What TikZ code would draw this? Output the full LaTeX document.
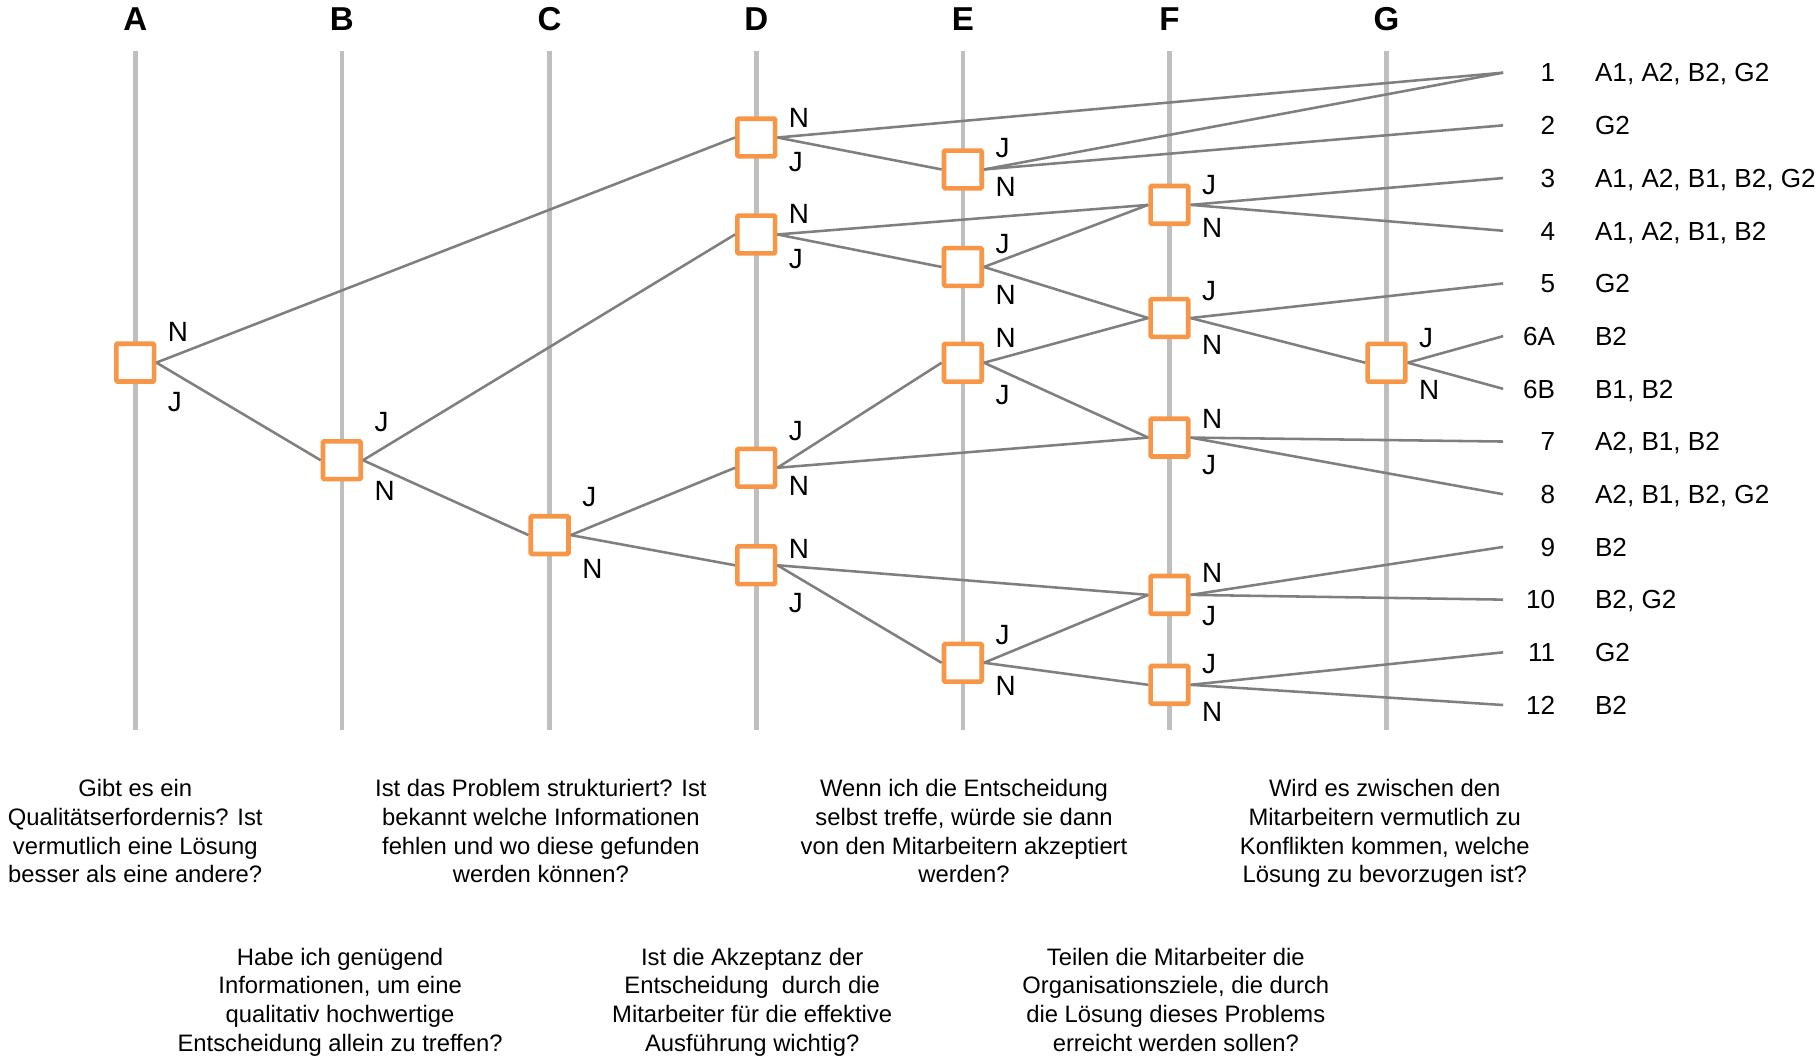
\documentclass[tikz,border=0pt]{standalone}
\usepackage{fontspec}
\setmainfont{Liberation Sans}
\definecolor{orng}{HTML}{F79646}
\definecolor{edgegray}{HTML}{7F7F7F}
\definecolor{colgray}{HTML}{BFBFBF}
\begin{document}
\begin{tikzpicture}[x=1pt,y=-1pt,
  colline/.style={draw=colgray,line width=4pt},
  dec/.style={draw=orng,fill=white,line width=4pt,minimum size=32.5pt,inner sep=0pt,rounded corners=1pt},
  conn/.style={draw=edgegray,line width=2.2pt},
  hdr/.style={anchor=base,inner sep=0pt,font=\bfseries\fontsize{28.5}{29}\selectfont},
  lbl/.style={anchor=base west,inner sep=0pt,font=\fontsize{24}{24}\selectfont},
  outnum/.style={anchor=base east,inner sep=0pt,font=\fontsize{22.5}{22.5}\selectfont},
  outans/.style={anchor=base west,inner sep=0pt,font=\fontsize{22.5}{22.5}\selectfont},
  qtext/.style={anchor=north,align=center,inner sep=0pt,font=\fontsize{20.5}{24.7}\selectfont}]
\useasboundingbox (0,0) rectangle (1568,915);

% column headers and lines
\foreach \n/\x in {A/116.5,B/294.5,C/473.5,D/651.5,E/829.5,F/1007.5,G/1194.5}{
  \node[hdr] (h\n) at (\x,26.2) {\n};
  \coordinate (t\n) at (\x,43.7);
  \coordinate (b\n) at (\x,629);
  \draw[colline] (t\n) -- (b\n);
}

% decision nodes
\node[dec] (A)  at (116.5,312.4) {};
\node[dec] (B)  at (294.5,396.5) {};
\node[dec] (C)  at (473.5,461) {};
\node[dec] (D1) at (651.5,118.5) {};
\node[dec] (D2) at (651.5,202) {};
\node[dec] (D3) at (651.5,403) {};
\node[dec] (D4) at (651.5,487) {};
\node[dec] (E1) at (829.5,146) {};
\node[dec] (E2) at (829.5,230) {};
\node[dec] (E3) at (829.5,312.5) {};
\node[dec] (E4) at (829.5,571) {};
\node[dec] (F1) at (1007.5,176.5) {};
\node[dec] (F2) at (1007.5,274) {};
\node[dec] (F3) at (1007.5,377) {};
\node[dec] (F4) at (1007.5,512.5) {};
\node[dec] (F5) at (1007.5,590) {};
\node[dec] (G1) at (1194.5,312.5) {};

% outcome rows
\foreach \k/\y/\num/\ans in {1/62.6/1/{A1, A2, B2, G2},2/108/2/G2,3/153.4/3/{A1, A2, B1, B2, G2},
  4/198.8/4/{A1, A2, B1, B2},5/244.2/5/G2,6/289.6/6A/B2,7/335/6B/{B1, B2},8/380.4/7/{A2, B1, B2},
  9/425.8/8/{A2, B1, B2, G2},10/471.2/9/B2,11/516.6/10/{B2, G2},12/562/11/G2,13/607.4/12/B2}{
  \coordinate (r\k) at (1295,\y);
  \node[outnum] (n\k) at (1340,\y+8.0) {\num};
  \node[outans] (o\k) at (1374,\y+8.0) {\ans};
}

% connectors
\draw[conn] (A.east) -- (D1.west);
\draw[conn] (A.east) -- (B.west);
\draw[conn] (B.east) -- (D2.west);
\draw[conn] (B.east) -- (C.west);
\draw[conn] (C.east) -- (D3.west);
\draw[conn] (C.east) -- (D4.west);
\draw[conn] (D1.east) -- (r1);
\draw[conn] (D1.east) -- (E1.west);
\draw[conn] (D2.east) -- (F1.west);
\draw[conn] (D2.east) -- (E2.west);
\draw[conn] (D3.east) -- (E3.west);
\draw[conn] (D3.east) -- (F3.west);
\draw[conn] (D4.east) -- (F4.west);
\draw[conn] (D4.east) -- (E4.west);
\draw[conn] (E1.east) -- (r1);
\draw[conn] (E1.east) -- (r2);
\draw[conn] (E2.east) -- (F1.west);
\draw[conn] (E2.east) -- (F2.west);
\draw[conn] (E3.east) -- (F2.west);
\draw[conn] (E3.east) -- (F3.west);
\draw[conn] (E4.east) -- (F4.west);
\draw[conn] (E4.east) -- (F5.west);
\draw[conn] (F1.east) -- (r3);
\draw[conn] (F1.east) -- (r4);
\draw[conn] (F2.east) -- (r5);
\draw[conn] (F2.east) -- (G1.west);
\draw[conn] (F3.east) -- (r8);
\draw[conn] (F3.east) -- (r9);
\draw[conn] (F4.east) -- (r10);
\draw[conn] (F4.east) -- (r11);
\draw[conn] (F5.east) -- (r12);
\draw[conn] (F5.east) -- (r13);
\draw[conn] (G1.east) -- (r6);
\draw[conn] (G1.east) -- (r7);

% branch labels (x = column + 28, baseline = centre + 8.5)
\foreach \nm/\x/\y/\t in {
  lA1/144.5/286/N, lA2/144.5/346/J,
  lB1/322.5/363/J, lB2/322.5/423/N,
  lC1/501.5/428/J, lC2/501.5/490/N,
  lD1/679.5/101/N, lD2/679.5/139/J,
  lD3/679.5/184/N, lD4/679.5/223/J,
  lD5/679.5/371/J, lD6/679.5/418/N,
  lD7/679.5/473/N, lD8/679.5/519/J,
  lE1/857.5/127/J, lE2/857.5/161/N,
  lE3/857.5/210/J, lE4/857.5/254/N,
  lE5/857.5/291/N, lE6/857.5/340/J,
  lE7/857.5/547/J, lE8/857.5/591/N,
  lF1/1035.5/159/J, lF2/1035.5/196/N,
  lF3/1035.5/250/J, lF4/1035.5/297/N,
  lF5/1035.5/361/N, lF6/1035.5/400/J,
  lF7/1035.5/493/N, lF8/1035.5/530/J,
  lF9/1035.5/572/J, lF10/1035.5/613/N,
  lG1/1222.5/291/J, lG2/1222.5/336/N}{
  \node[lbl] (\nm) at (\x,\y+8.5) {\t};
}

% questions
\node[qtext] (qA) at (116.5,671.5) {Gibt es ein\\Qualitätserfordernis? Ist\\vermutlich eine Lösung\\besser als eine andere?};
\node[qtext] (qC) at (466,671.5) {Ist das Problem strukturiert? Ist\\bekannt welche Informationen\\fehlen und wo diese gefunden\\werden können?};
\node[qtext] (qE) at (830.5,671.5) {Wenn ich die Entscheidung\\selbst treffe, würde sie dann\\von den Mitarbeitern akzeptiert\\werden?};
\node[qtext] (qG) at (1193,671.5) {Wird es zwischen den\\Mitarbeitern vermutlich zu\\Konflikten kommen, welche\\Lösung zu bevorzugen ist?};
\node[qtext] (qB) at (293,816.5) {Habe ich genügend\\Informationen, um eine\\qualitativ hochwertige\\Entscheidung allein zu treffen?};
\node[qtext] (qD) at (648,816.5) {Ist die Akzeptanz der\\Entscheidung~ durch die\\Mitarbeiter für die effektive\\Ausführung wichtig?};
\node[qtext] (qF) at (1013,816.5) {Teilen die Mitarbeiter die\\Organisationsziele, die durch\\die Lösung dieses Problems\\erreicht werden sollen?};
\end{tikzpicture}
\end{document}
